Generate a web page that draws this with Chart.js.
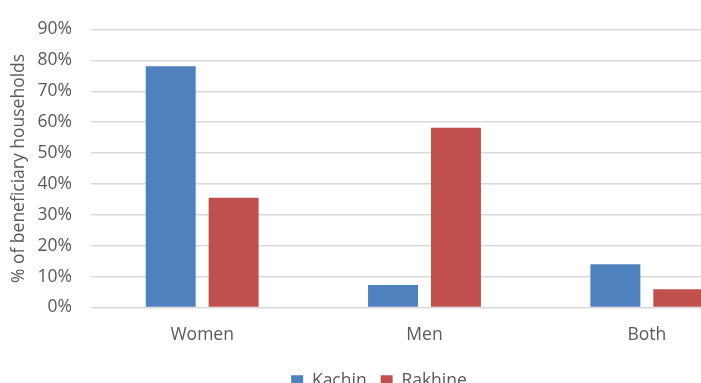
<!DOCTYPE html>
<html>
<head>
<meta charset="utf-8">
<script src="https://cdn.jsdelivr.net/npm/chart.js@4"></script>
<style>
  html, body { margin: 0; padding: 0; background: #fff; overflow: hidden; }
  #wrap { position: absolute; left: 0; top: 0; width: 780px; height: 400px; }
</style>
</head>
<body>
<div id="wrap"><canvas id="chart" width="780" height="400"></canvas></div>
<script>
// who decides, share of beneficiary households
const categories = ['Women', 'Men', 'Both'];
const kachin = [78.1, 7.3, 14.0];
const rakhine = [35.5, 58.2, 5.9];
const yTicks = [0, 10, 20, 30, 40, 50, 60, 70, 80, 90];

const textColor = '#595959';
const gridColor = '#d9d9d9';
const font = { family: "'Open Sans', sans-serif", size: 17.5 };

const ctx = document.getElementById('chart').getContext('2d');

new Chart(ctx, {
	type: 'bar',
	data: {
		labels: categories,
		datasets: [
			{ label: 'Kachin', data: kachin, backgroundColor: '#4f81bd' },
			{ label: 'Rakhine', data: rakhine, backgroundColor: '#c0504d' }
		]
	},
	options: {
		responsive: false,
		animation: false,
		devicePixelRatio: 1,
		categoryPercentage: 0.566,
		barPercentage: 0.794,
		layout: { padding: { top: 16, left: 0, right: 22, bottom: 0 } },
		plugins: {
			tooltip: { enabled: false },
			legend: {
				position: 'bottom',
				labels: {
					color: textColor,
					font: font,
					boxWidth: 12,
					boxHeight: 12,
					padding: 14
				}
			}
		},
		scales: {
			x: {
				grid: { display: false },
				border: { color: gridColor },
				ticks: { color: textColor, font: font, padding: 9 },
				afterFit(scale) { scale.height = 51; }
			},
			y: {
				min: 0,
				max: 90,
				afterBuildTicks(scale) {
					scale.ticks = yTicks.map(v => ({ value: v }));
				},
				grid: { color: gridColor, lineWidth: 1.5, drawTicks: false },
				border: { display: false },
				ticks: {
					color: textColor,
					font: font,
					padding: 19,
					callback: v => v + '%'
				},
				title: {
					display: true,
					text: '% of beneficiary households',
					color: textColor,
					font: font,
					padding: { top: 9, bottom: 0 }
				},
				afterFit(scale) { scale.width = 91; }
			}
		}
	}
});
</script>
</body>
</html>
